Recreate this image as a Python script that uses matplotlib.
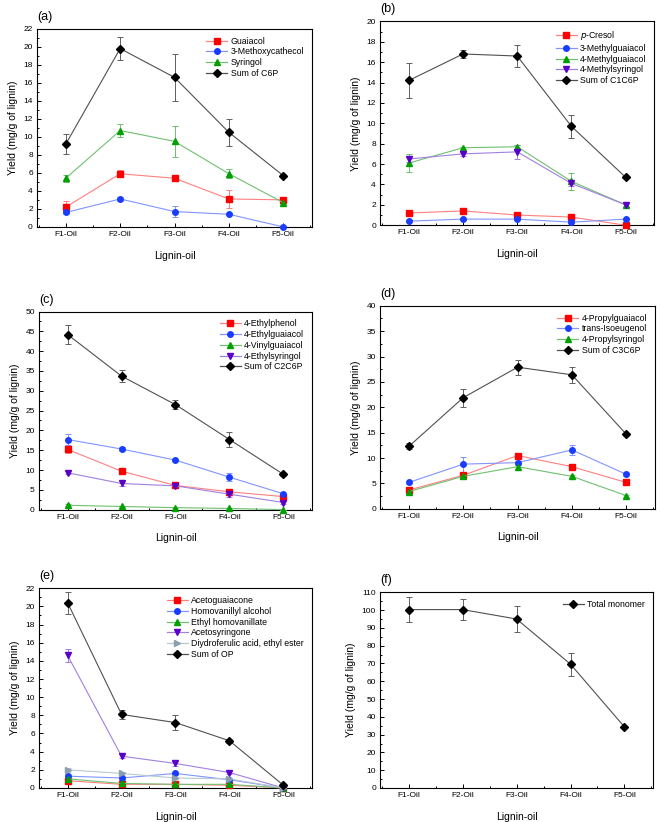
import numpy as np
import matplotlib
matplotlib.use("Agg")
import matplotlib.pyplot as plt
from matplotlib.lines import Line2D
from matplotlib.ticker import MultipleLocator, AutoMinorLocator

plt.rcParams['font.family'] = ['Liberation Sans', 'DejaVu Sans']

oils = ["F1-Oil", "F2-Oil", "F3-Oil", "F4-Oil", "F5-Oil"]

# (a) C6P
a_names = ["Guaiacol", "3-Methoxycathecol", "Syringol", "Sum of C6P"]
a_vals = [[2.2, 5.9, 5.4, 3.1, 3.0],
          [1.6, 3.1, 1.7, 1.4, 0.0],
          [5.4, 10.7, 9.5, 5.9, 2.7],
          [9.2, 19.8, 16.6, 10.5, 5.7]]
a_err = [[0.7, 0.4, 0.2, 1.0, 0.2],
         [0.2, 0.2, 0.6, 0.1, 0.1],
         [0.4, 0.7, 1.7, 0.5, 0.2],
         [1.1, 1.3, 2.6, 1.5, 0.15]]

# (b) C1C6P
b_names = ["$p$-Cresol", "3-Methylguaiacol", "4-Methylguaiacol", "4-Methylsyringol", "Sum of C1C6P"]
b_vals = [[1.2, 1.4, 1.0, 0.8, 0.0],
          [0.4, 0.6, 0.6, 0.3, 0.6],
          [6.1, 7.6, 7.7, 4.3, 2.0],
          [6.5, 7.0, 7.2, 4.1, 2.0],
          [14.2, 16.8, 16.6, 9.7, 4.7]]
b_err = [[0.2, 0.1, 0.1, 0.1, 0.0],
         [0.1, 0.1, 0.1, 0.1, 0.1],
         [0.9, 0.1, 0.2, 0.8, 0.2],
         [0.3, 0.2, 0.7, 0.3, 0.1],
         [1.7, 0.4, 1.1, 1.1, 0.1]]

# (c) C2C6P
c_names = ["4-Ethylphenol", "4-Ethylguaiacol", "4-Vinylguaiacol", "4-Ethylsyringol", "Sum of C2C6P"]
c_vals = [[15.2, 9.7, 6.1, 4.5, 3.3],
          [17.7, 15.3, 12.5, 8.2, 4.0],
          [1.1, 0.8, 0.5, 0.3, 0.0],
          [9.3, 6.6, 6.0, 3.9, 1.8],
          [44.2, 33.7, 26.5, 17.7, 8.9]]
c_err = [[0.9, 0.3, 0.3, 0.5, 0.3],
         [1.3, 0.5, 0.3, 1.0, 0.3],
         [0.2, 0.2, 0.1, 0.1, 0.0],
         [0.4, 0.7, 0.5, 0.6, 0.3],
         [2.3, 1.5, 1.1, 1.9, 0.3]]

# (d) C3C6P
d_names = ["4-Propylguaiacol", "trans-Isoeugenol", "4-Propylsyringol", "Sum of C3C6P"]
d_vals = [[3.7, 6.6, 10.5, 8.3, 5.2],
          [5.2, 8.8, 9.1, 11.6, 6.8],
          [3.4, 6.4, 8.3, 6.4, 2.6],
          [12.3, 21.9, 27.9, 26.4, 14.7]]
d_err = [[0.3, 0.7, 0.3, 0.3, 0.2],
         [0.3, 1.5, 0.4, 0.9, 0.3],
         [0.3, 0.3, 0.5, 0.3, 0.2],
         [0.6, 1.8, 1.5, 1.6, 0.3]]

# (e) OP
e_names = ["Acetoguaiacone", "Homovanillyl alcohol", "Ethyl homovanillate", "Acetosyringone",
           "Diydroferulic acid, ethyl ester", "Sum of OP"]
e_vals = [[0.8, 0.4, 0.4, 0.3, 0.0],
          [1.3, 1.1, 1.6, 0.9, 0.0],
          [1.0, 0.5, 0.4, 0.4, 0.0],
          [14.6, 3.5, 2.7, 1.7, 0.0],
          [2.0, 1.6, 1.1, 1.0, 0.0],
          [20.4, 8.1, 7.2, 5.2, 0.3]]
e_err = [[0.1, 0.1, 0.1, 0.1, 0.0],
         [0.2, 0.2, 0.2, 0.1, 0.0],
         [0.1, 0.1, 0.1, 0.1, 0.0],
         [0.7, 0.2, 0.3, 0.2, 0.0],
         [0.2, 0.2, 0.1, 0.1, 0.0],
         [1.2, 0.5, 0.8, 0.2, 0.1]]

# (f) total
f_names = ["Total monomer"]
f_vals = [[100.3, 100.3, 95.0, 69.6, 34.3]]
f_err = [[7.0, 5.7, 7.2, 6.5, 0.6]]

# marker colour, line colour, marker
styles = {
    "red": ("#ff0000", "#ff8080", "s"),
    "blue": ("#1a3cff", "#8095ff", "o"),
    "green": ("#00a000", "#70c070", "^"),
    "purple": ("#5a00c8", "#a080e0", "v"),
    "grey": ("#8aa0b0", "#b8c8d0", ">"),
    "black": ("#000000", "#505050", "D"),
}

panels = [
    ("(a)", a_names, a_vals, a_err, ["red", "blue", "green", "black"], (0, 22), 2,
     [0.056, 0.724, 0.416, 0.241]),
    ("(b)", b_names, b_vals, b_err, ["red", "blue", "green", "purple", "black"], (0, 20), 2,
     [0.575, 0.726, 0.415, 0.248]),
    ("(c)", c_names, c_vals, c_err, ["red", "blue", "green", "purple", "black"], (0, 50), 5,
     [0.059, 0.380, 0.413, 0.241]),
    ("(d)", d_names, d_vals, d_err, ["red", "blue", "green", "black"], (0, 40), 5,
     [0.575, 0.381, 0.416, 0.247]),
    ("(e)", e_names, e_vals, e_err, ["red", "blue", "green", "purple", "grey", "black"], (0, 22), 2,
     [0.059, 0.0414, 0.413, 0.243]),
    ("(f)", f_names, f_vals, f_err, ["black"], (0, 110), 10,
     [0.575, 0.0414, 0.413, 0.238]),
]

fig = plt.figure(figsize=(6.61, 8.22), dpi=100)
x = np.arange(1, len(oils) + 1)

for tag, names, vals, errs, cols, ylim, ystep, pos in panels:
    ax = fig.add_axes(pos)
    handles = []
    for name, v, e, c in zip(names, vals, errs, cols):
        mc, lc, mk = styles[c]
        ecol = "#606060" if c == "black" else lc
        ax.errorbar(x, v, yerr=e, color=lc, lw=0.8, marker=mk, ms=4,
                    mfc=mc, mec=mc, ecolor=ecol, elinewidth=0.7, capsize=2.2,
                    capthick=0.7, clip_on=False, zorder=3)
        handles.append(Line2D([], [], color=lc, lw=0.9, marker=mk, ms=4,
                              mfc=mc, mec=mc, label=name))
    ax.set_xlim(0.47, 5.53)
    ax.set_ylim(*ylim)
    ax.set_xticks(x)
    ax.set_xticklabels(oils)
    ax.xaxis.set_minor_locator(MultipleLocator(0.5))
    ax.yaxis.set_major_locator(MultipleLocator(ystep))
    ax.yaxis.set_minor_locator(AutoMinorLocator(2))
    ax.tick_params(which="both", direction="in", labelsize=6, width=0.7)
    ax.tick_params(which="major", length=3, pad=3)
    ax.tick_params(which="minor", length=1.5)
    for s in ax.spines.values():
        s.set_linewidth(0.8)
    ax.set_xlabel("Lignin-oil", fontsize=7.5, labelpad=9)
    ax.set_ylabel("Yield (mg/g of lignin)", fontsize=7.5, labelpad=4)
    ax.text(0.0, 1.03, tag, transform=ax.transAxes, fontsize=9, ha="left", va="bottom")
    ax.legend(handles=handles, loc="upper right", frameon=False, fontsize=6.3,
              handlelength=2.4, handletextpad=0.4, labelspacing=0.2,
              borderaxespad=0.5, borderpad=0.4)

fig.savefig("out.png", dpi=100)
